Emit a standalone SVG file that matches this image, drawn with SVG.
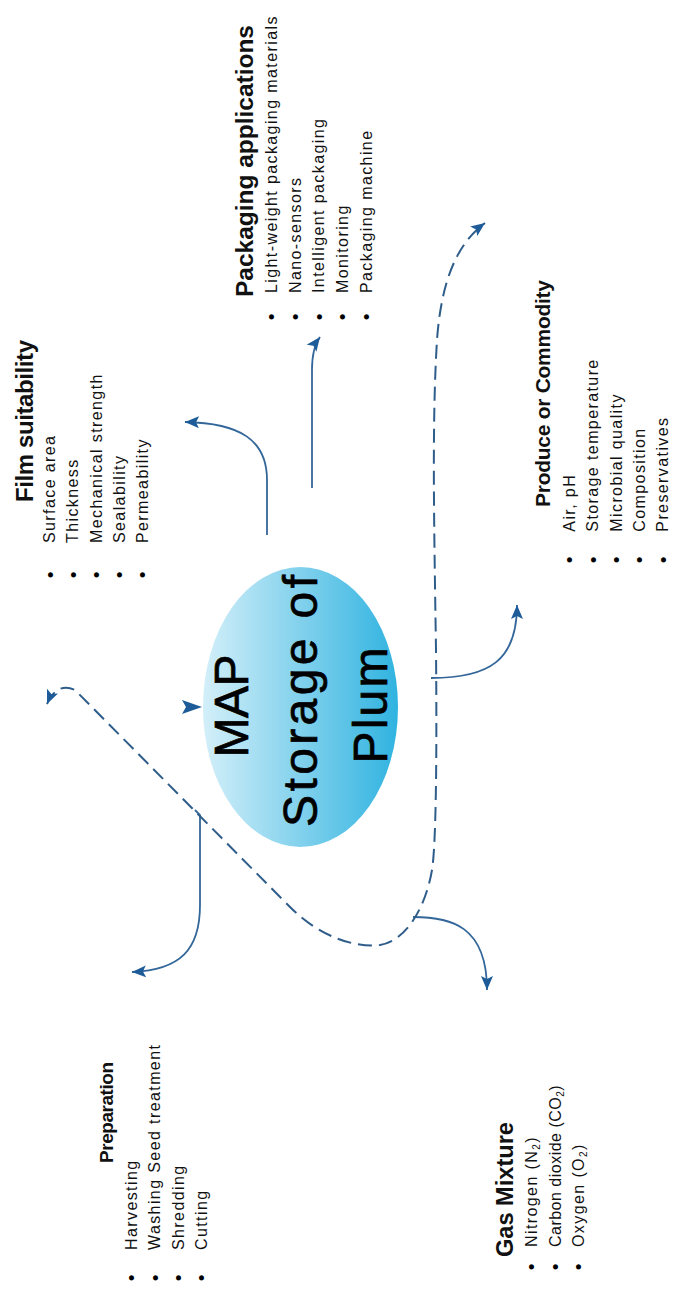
<svg xmlns="http://www.w3.org/2000/svg" width="674" height="1289" viewBox="0 0 674 1289">
<style>
.t{font-family:"Liberation Sans",Arial,sans-serif;font-weight:bold;fill:#111}
.i{font-family:"Liberation Sans",Arial,sans-serif;font-size:16px;letter-spacing:1.4px;fill:#111}
.b{font-family:"Liberation Sans",Arial,sans-serif;font-size:19px;fill:#000}
.c{font-family:"Liberation Sans",Arial,sans-serif;font-size:48px;fill:#000;stroke:#000;stroke-width:0.7;text-anchor:middle}
.ln{fill:none;stroke:#33679a;stroke-width:1.8}
.ds{fill:none;stroke:#2f5d8a;stroke-width:2;stroke-dasharray:14 7}
.ah{fill:#1d5c98}
</style>
<defs>
<linearGradient id="g" x1="0" x2="1" y1="0" y2="0"><stop offset="0" stop-color="#d3eff9"/><stop offset="1" stop-color="#30b3e0"/></linearGradient>
<marker id="ah" markerUnits="userSpaceOnUse" markerWidth="16" markerHeight="14" refX="14" refY="6" orient="auto-start-reverse" viewBox="0 0 16 14"><path class="ah" d="M0,0 L14,6 L0,12 L3,6 z"/></marker>
</defs>
<rect width="674" height="1289" fill="#fff"/>

<g id="center">
<ellipse cx="300.5" cy="707" rx="97.5" ry="140" fill="url(#g)"/>
<g transform="translate(300.5,707) rotate(-90)">
<text class="c" x="1" y="-52.5" textLength="103">MAP</text>
<text class="c" x="6" y="16.5" textLength="252">Storage of</text>
<text class="c" x="1.5" y="86.5" textLength="116">Plum</text>
</g>
</g>

<g id="film" transform="translate(33,502) rotate(-90)">
<text class="t" font-size="24" x="0" y="0" textLength="162">Film suitability</text>
<text class="b" x="-76.3" y="23.5">•</text>
<text class="b" x="-76.3" y="46.7">•</text>
<text class="b" x="-76.3" y="69.9">•</text>
<text class="b" x="-76.3" y="93.1">•</text>
<text class="b" x="-76.3" y="116.3">•</text>
<text class="i" x="-41" y="22.2">Surface area</text>
<text class="i" x="-41" y="45.4">Thickness</text>
<text class="i" x="-41" y="68.6">Mechanical strength</text>
<text class="i" x="-41" y="91.8">Sealability</text>
<text class="i" x="-41" y="115">Permeability</text>
</g>

<g id="packaging" transform="translate(253,297) rotate(-90)">
<text class="t" font-size="24.5" x="0" y="0" textLength="272">Packaging applications</text>
<text class="b" x="-23.3" y="25.3">•</text>
<text class="b" x="-23.3" y="49">•</text>
<text class="b" x="-23.3" y="72.7">•</text>
<text class="b" x="-23.3" y="96.4">•</text>
<text class="b" x="-23.3" y="120.1">•</text>
<text class="i" x="4" y="24">Light-weight packaging materials</text>
<text class="i" x="4" y="47.7">Nano-sensors</text>
<text class="i" x="4" y="71.4">Intelligent packaging</text>
<text class="i" x="4" y="95.1">Monitoring</text>
<text class="i" x="4" y="118.8">Packaging machine</text>
</g>

<g id="produce" transform="translate(550,507) rotate(-90)">
<text class="t" font-size="21" x="0" y="0" textLength="227">Produce or Commodity</text>
<text class="b" x="-56.3" y="26.3">•</text>
<text class="b" x="-56.3" y="49.6">•</text>
<text class="b" x="-56.3" y="72.9">•</text>
<text class="b" x="-56.3" y="96.2">•</text>
<text class="b" x="-56.3" y="119.5">•</text>
<text class="i" x="-24.7" y="25">Air, pH</text>
<text class="i" x="-24.7" y="48.3">Storage temperature</text>
<text class="i" x="-24.7" y="71.6">Microbial quality</text>
<text class="i" x="-24.7" y="94.9">Composition</text>
<text class="i" x="-24.7" y="118.2">Preservatives</text>
</g>

<g id="preparation" transform="translate(113,1163) rotate(-90)">
<text class="t" font-size="19" x="0" y="0" textLength="101">Preparation</text>
<text class="b" x="-118.3" y="25.3">•</text>
<text class="b" x="-118.3" y="48.6">•</text>
<text class="b" x="-118.3" y="71.9">•</text>
<text class="b" x="-118.3" y="95.3">•</text>
<text class="i" x="-87" y="24">Harvesting</text>
<text class="i" x="-87" y="47.3">Washing Seed treatment</text>
<text class="i" x="-87" y="70.6">Shredding</text>
<text class="i" x="-87" y="94">Cutting</text>
</g>

<g id="gas" transform="translate(513,1257) rotate(-90)">
<text class="t" font-size="23.6" x="0" y="0" textLength="135">Gas Mixture</text>
<text class="b" x="-13.3" y="25.3">•</text>
<text class="b" x="-13.3" y="48.8">•</text>
<text class="b" x="-13.3" y="72.3">•</text>
<text class="i" x="10" y="24">Nitrogen (N<tspan font-size="10" dy="3">2</tspan><tspan dy="-3">)</tspan></text>
<text class="i" x="10" y="47.5" textLength="163" lengthAdjust="spacing">Carbon dioxide (CO<tspan font-size="10" dy="3">2</tspan><tspan dy="-3">)</tspan></text>
<text class="i" x="10" y="71">Oxygen (O<tspan font-size="10" dy="3">2</tspan><tspan dy="-3">)</tspan></text>
</g>

<g id="connectors">
<path class="ln" d="M267,535 L267,480 C267,440 240,423 185,422" marker-end="url(#ah)"/>
<path class="ln" d="M312,488 L312,370 C312,355 314,345 320,337" stroke="#5b93c6" marker-end="url(#ah)"/>
<path class="ln" d="M431,678 C490,678 517,660 517,605" marker-end="url(#ah)"/>
<path class="ln" d="M413,917 C450,917 487,925 487,990" marker-end="url(#ah)"/>
<path class="ln" d="M195,810 L200,815 L200,905 C200,950 180,970 132,972" marker-end="url(#ah)"/>
<path class="ds" d="M47,704 C53,690 63,684 75,690 L290,907 C320,937 355,948 380,945 C405,941 425,910 432,870 C436,845 437,760 436,650 C434,520 432,420 437,340 C441,285 455,245 485,223" marker-start="url(#ah)" marker-end="url(#ah)"/>
<polygon class="ah" points="182,700 202,707 182,714 186,707"/>
</g>
</svg>
